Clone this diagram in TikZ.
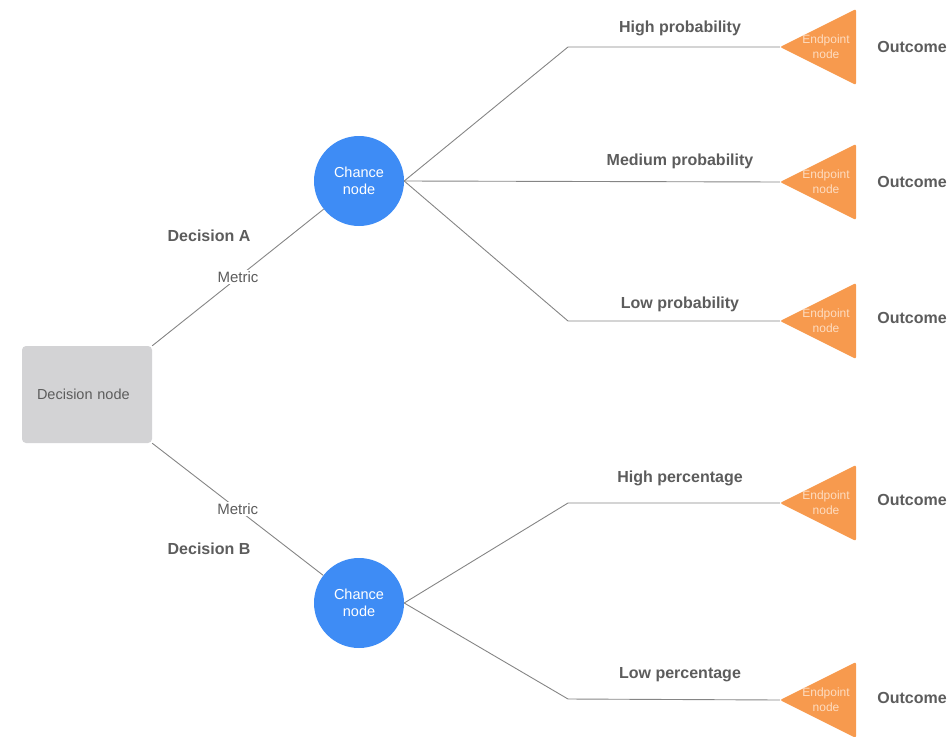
\documentclass[tikz,border=0pt]{standalone}
\usepackage{fontspec}
\setmainfont{Liberation Sans}
\begin{document}
\definecolor{chanceblue}{HTML}{3E8CF5}
\definecolor{endorange}{HTML}{F79A4E}
\definecolor{decgray}{HTML}{D3D3D5}
\definecolor{linegray}{HTML}{858585}
\definecolor{labelgray}{HTML}{5C5C5C}
\definecolor{endtextcol}{HTML}{FDDCC0}
\begin{tikzpicture}[x=1pt,y=-1pt,
  link/.style={draw=linegray, line width=0.9pt},
  decbox/.style={rectangle, rounded corners=4pt, fill=decgray, minimum width=130pt,
    minimum height=97pt, text width=100pt, inner xsep=15pt, align=left,
    text=labelgray, font=\fontsize{14.5}{17}\selectfont},
  chance/.style={circle, fill=chanceblue, minimum size=90pt, inner sep=0pt,
    text=white, align=center, font=\fontsize{14.5}{17}\selectfont},
  branchlabel/.style={text=labelgray, font=\bfseries\fontsize{16}{18}\selectfont},
  metric/.style={fill=white, inner sep=1.5pt, text=labelgray, font=\fontsize{15}{17}\selectfont},
  endtext/.style={text=endtextcol, align=center, inner sep=0pt, font=\fontsize{12}{15}\selectfont},
  endpoint/.pic={
    \fill[endorange, rounded corners=2pt] (-38,0) -- (38,-38) -- (38,38) -- cycle;
    \coordinate (-tip) at (-38,0);
    \node[endtext] (-label) at (8,0) {Endpoint\\node};
  }]
\path[use as bounding box] (0,0) rectangle (950,736);

% main nodes
\node[decbox] (dec) at (87,394.5) {Decision node};
\node[chance] (chA) at (359,181) {Chance\\node};
\node[chance] (chB) at (359,603) {Chance\\node};

% endpoint triangles
\pic (e1) at (818,47) {endpoint};
\pic (e2) at (818,182) {endpoint};
\pic (e3) at (818,321) {endpoint};
\pic (e4) at (818,503) {endpoint};
\pic (e5) at (818,700) {endpoint};

% bends of the branches
\coordinate (b1) at (568,47);
\coordinate (b3) at (568,321);
\coordinate (b4) at (568,503);
\coordinate (b5) at (568,699);

% decisions
\draw[link] (dec.north east) -- node[metric] {Metric} (chA);
\draw[link] (dec.south east) -- node[metric, pos=0.5] {Metric} (chB);
\node[branchlabel] (decA) at (209,236) {Decision A};
\node[branchlabel] (decB) at (209,549) {Decision B};

% branches from the chance nodes
\draw[link] (chA.east) -- (b1) -- (e1-tip);
\draw[link] (chA.east) -- (e2-tip);
\draw[link] (chA.east) -- (b3) -- (e3-tip);
\draw[link] (chB.east) -- (b4) -- (e4-tip);
\draw[link] (chB.east) -- (b5) -- (e5-tip);

% branch labels
\node[branchlabel] (l1) at (680,28) {High probability};
\node[branchlabel] (l2) at (680,161) {Medium probability};
\node[branchlabel] (l3) at (680,304) {Low probability};
\node[branchlabel] (l4) at (680,478) {High percentage};
\node[branchlabel] (l5) at (680,675) {Low percentage};

% outcomes
\node[branchlabel] (o1) at (912,47) {Outcome};
\node[branchlabel] (o2) at (912,182) {Outcome};
\node[branchlabel] (o3) at (912,318) {Outcome};
\node[branchlabel] (o4) at (912,500) {Outcome};
\node[branchlabel] (o5) at (912,698) {Outcome};
\end{tikzpicture}
\end{document}
